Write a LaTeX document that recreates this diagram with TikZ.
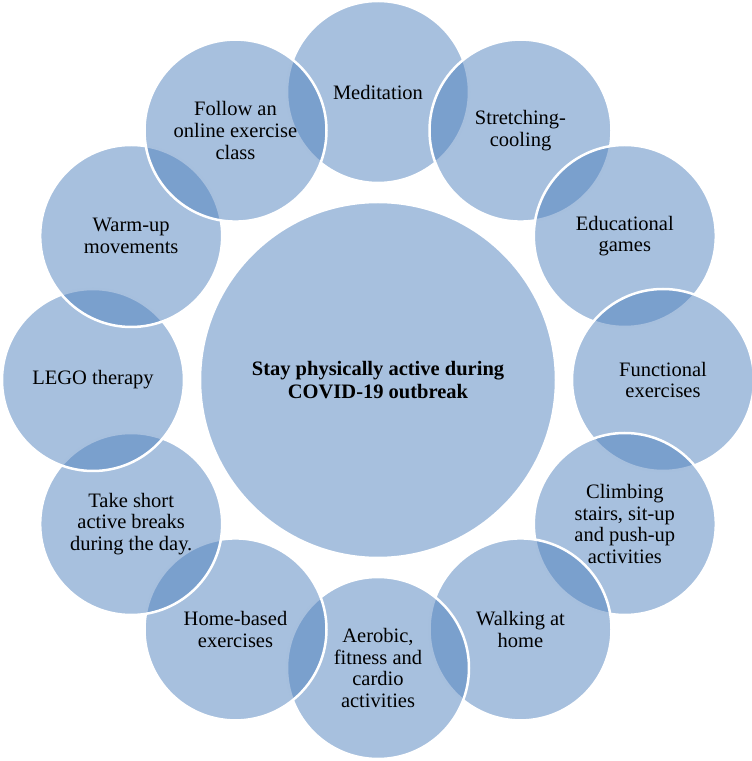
\documentclass[tikz,border=0pt]{standalone}
\usepackage{fontspec}
\setmainfont{Liberation Serif}
\usetikzlibrary{calc}
\definecolor{acc}{HTML}{4F81BD}

\begin{document}
\begin{tikzpicture}[x=1pt, y=1pt,
            bubble/.style={circle, draw=white, line width=2.5pt, fill=acc, fill opacity=0.5, text opacity=1, minimum size=182pt, inner sep=0pt, align=center, font=\fontsize{20.5}{21.7}\selectfont},
            hub/.style={bubble, minimum size=356pt, font=\fontsize{20.5}{23.3}\selectfont\bfseries}]

            \useasboundingbox (0,0) rectangle (752,761);
            \coordinate (o) at (378,381);

            \node[hub] (act) at (o) {Stay physically active during\\COVID-19 outbreak};

            % outer ring, drawn clockwise from the top
            \node[bubble] (med) at ($(o)+(90:285 and 288)$) {Meditation};
            \node[bubble] (str) at ($(o)+(60:285 and 288)$) {Stretching-\\cooling};
            \node[bubble] (edu) at ($(o)+(30:285 and 288)$) {Educational\\games};
            \node[bubble] (fun) at ($(o)+(0:285 and 288)$) {Functional\\exercises};
            \node[bubble] (cli) at ($(o)+(-30:285 and 288)$) {Climbing\\stairs, sit-up\\and push-up\\activities};
            \node[bubble] (wal) at ($(o)+(-60:285 and 288)$) {Walking at\\home};
            \node[bubble] (aer) at ($(o)+(-90:285 and 288)$) {Aerobic,\\fitness and\\cardio\\activities};
            \node[bubble] (hom) at ($(o)+(-120:285 and 288)$) {Home-based\\exercises};
            \node[bubble] (tak) at ($(o)+(-150:285 and 288)$) {Take short\\active breaks\\during the day.};
            \node[bubble] (leg) at ($(o)+(180:285 and 288)$) {LEGO therapy};
            \node[bubble] (war) at ($(o)+(150:285 and 288)$) {Warm-up\\movements};
            \node[bubble] (fol) at ($(o)+(120:285 and 288)$) {Follow an\\online exercise\\class};
        \end{tikzpicture}
\end{document}
